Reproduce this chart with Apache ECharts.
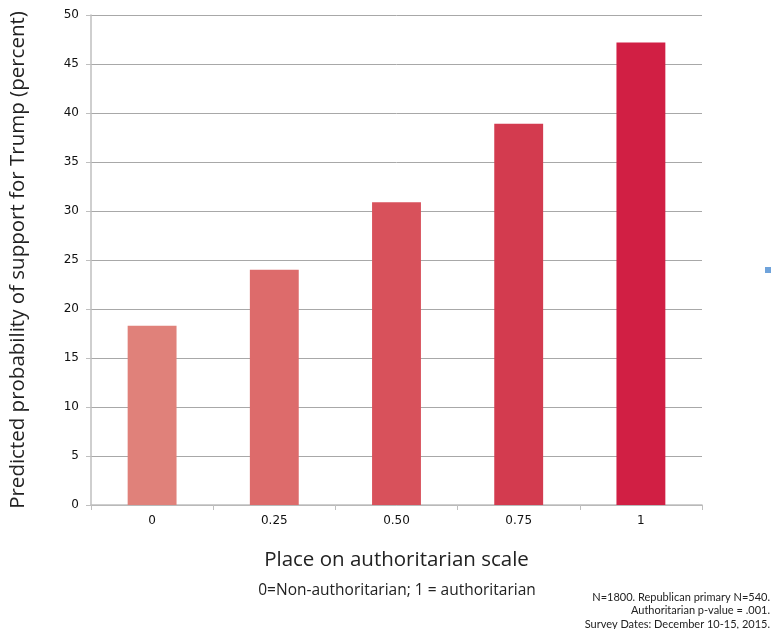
<!DOCTYPE html>
<html><head><meta charset="utf-8">
<script src="https://cdn.jsdelivr.net/npm/echarts@6/dist/echarts.min.js"></script>
<style>html,body{margin:0;padding:0;background:#fff}#c{width:774px;height:629px}</style>
</head><body><div id="c"></div>
<script>
const categories = ['0', '0.25', '0.50', '0.75', '1'];
const values = [18.3, 24.0, 30.9, 38.9, 47.2];
const barColors = ['#E0817A', '#DD6B6B', '#D8515B', '#D33B4F', '#D11F44'];
const yTicks = [0, 5, 10, 15, 20, 25, 30, 35, 40, 45, 50];
const notes = ['N=1800. Republican primary N=540.', 'Authoritarian p-value = .001.', 'Survey Dates: December 10-15, 2015.'];

const chart = echarts.init(document.getElementById('c'));
chart.setOption({
  animation: false,
  grid: { left: 91, right: 72, top: 15, bottom: 124 },
  xAxis: {
    type: 'category', data: categories, boundaryGap: true,
    axisLine: { lineStyle: { color: '#BFBFBF', width: 1.5 } },
    axisTick: { show: true, alignWithLabel: false, length: 5, lineStyle: { color: '#BFBFBF' } },
    axisLabel: { color: '#111', fontSize: 12, fontFamily: 'DejaVu Sans', margin: 10 },
    name: 'Place on authoritarian scale', nameLocation: 'middle', nameGap: 45,
    nameTextStyle: { color: '#222', fontSize: 20.5, fontFamily: 'Open Sans' }
  },
  yAxis: {
    type: 'value', min: 0, max: 50, interval: 5,
    axisLine: { show: true, lineStyle: { color: '#BFBFBF', width: 1.5 } },
    axisTick: { show: true, length: 5, lineStyle: { color: '#BFBFBF' } },
    splitLine: { lineStyle: { color: '#A8A8A8', width: 1 } },
    axisLabel: { color: '#111', fontSize: 12, fontFamily: 'DejaVu Sans', margin: 12,
      formatter: v => yTicks.includes(v) ? String(v) : '' },
    name: 'Predicted probability of support for Trump (percent)', nameLocation: 'middle', nameGap: 62,
    nameTextStyle: { color: '#222', fontSize: 20.5, fontFamily: 'Open Sans' }
  },
  series: [{
    type: 'bar', barWidth: '40%',
    data: values.map((v, i) => ({ value: v, itemStyle: { color: barColors[i] } }))
  }],
  graphic: [
    { type: 'text', x: 397, y: 591, style: { text: '0=Non-authoritarian; 1 = authoritarian', fill: '#222', font: '15.5px "Open Sans"', align: 'center', verticalAlign: 'middle' } },
    ...notes.map((t, i) => ({ type: 'text', x: 770, y: 597 + i * 13.5, style: { text: t, fill: '#222', font: '11px Lato', align: 'right', verticalAlign: 'middle' } })),
    { type: 'rect', x: 765, y: 267, shape: { width: 6, height: 6 }, style: { fill: '#6FA3DB' } }
  ]
});
</script></body></html>
